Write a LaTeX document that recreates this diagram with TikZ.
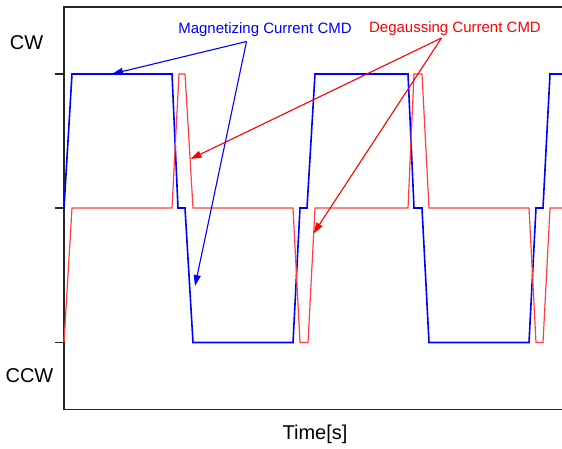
\documentclass[tikz,border=0pt]{standalone}
\usepackage{fontspec}
\setmainfont{Liberation Sans}
\usetikzlibrary{arrows.meta}
\definecolor{degred}{RGB}{255,64,64}

\begin{document}
\begin{tikzpicture}[x=1pt,y=-1pt,
    axisline/.style={black!85,line width=1.3pt},
    magline/.style={blue,line width=1.6pt,line join=miter},
    degline/.style={degred,line width=1.2pt,line join=miter},
    callout/.style={line width=1.1pt,-{Triangle[length=11pt,width=7pt]}},
    axislabel/.style={font=\fontsize{20pt}{22pt}\selectfont},
    curvelabel/.style={font=\fontsize{15pt}{17pt}\selectfont,anchor=base}] %
  \useasboundingbox (0,0) rectangle (562,448);
  % frame and ticks
  \draw[axisline] (562,7) -- (64,7) -- (64,409.5) -- (562,409.5);
  \foreach \lev in {74,208,342.5}
    \draw[axisline] (55,\lev) -- (64,\lev);
  \node[axislabel] (cw) at (26.5,42.5) {CW};
  \node[axislabel] (ccw) at (29.5,375.5) {CCW};
  \node[axislabel] (time) at (315,434) {Time[s]};
  % magnetizing current command
  \draw[magline] (64,208) -- (72,74) -- (172,74) -- (178,208) -- (185,208) -- (193,342.5)
    -- (293,342.5) -- (300,208) -- (307,208) -- (315,74) -- (408,74) -- (414,208)
    -- (422,208) -- (429,342.5) -- (529,342.5) -- (536,208) -- (543,208) -- (550,74) -- (562,74);
  % degaussing current command
  \draw[degline] (64,342.5) -- (72,208) -- (172,208) -- (179,74) -- (185,74) -- (193,208)
    -- (293,208) -- (300,342.5) -- (308,342.5) -- (315,208) -- (408,208) -- (414,74)
    -- (422,74) -- (429,208) -- (529,208) -- (536,342.5) -- (543,342.5) -- (550,208) -- (562,208);
  % callouts
  \node[curvelabel,blue] (mag) at (265,33.5) {Magnetizing Current CMD};
  \node[curvelabel,red] (deg) at (455,32) {Degaussing Current CMD};
  \coordinate (magfrom) at (246.5,41.5);
  \coordinate (degfrom) at (441.5,38);
  \coordinate (magtipa) at (112,74);
  \coordinate (magtipb) at (195,286);
  \coordinate (degtipa) at (190.5,159);
  \coordinate (degtipb) at (313.5,233.5);
  \draw[callout,blue] (magfrom) -- (magtipa);
  \draw[callout,blue] (magfrom) -- (magtipb);
  \draw[callout,red] (degfrom) -- (degtipa);
  \draw[callout,red] (degfrom) -- (degtipb);
\end{tikzpicture}
\end{document}
